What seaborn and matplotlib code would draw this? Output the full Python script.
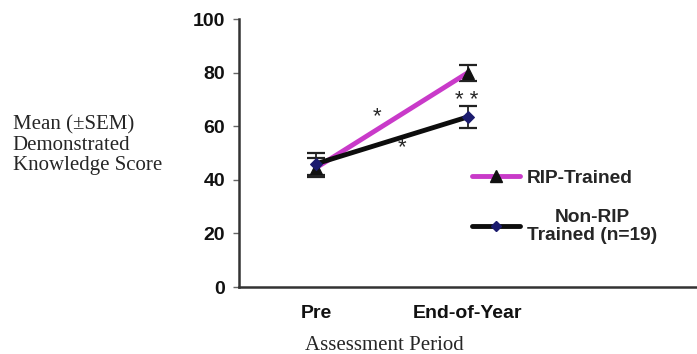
import matplotlib
matplotlib.use('Agg')
import matplotlib.pyplot as plt
import numpy as np
import pandas as pd
import seaborn as sns
from matplotlib.lines import Line2D

# values
periods = ['Pre', 'End-of-Year']
groups = ['RIP-Trained', 'Non-RIP\nTrained (n=19)']
rip_mean = [44.5, 80.0]
rip_sem = [3.5, 3.0]
non_rip_mean = [46.0, 63.5]
non_rip_sem = [4.0, 4.2]
y_ticks = [0, 20, 40, 60, 80, 100]

colors = {groups[0]: '#c93ac9', groups[1]: '#0d0d0d'}
marker_colors = {groups[0]: '#111111', groups[1]: '#1c1c6e'}

df = pd.DataFrame({
    'period': periods * 2,
    'score': rip_mean + non_rip_mean,
    'sem': rip_sem + non_rip_sem,
    'group': [groups[0]] * 2 + [groups[1]] * 2,
})

sns.set_style('white')
plt.rcParams['font.family'] = ['Liberation Sans', 'DejaVu Sans']
serif = ['Liberation Serif', 'DejaVu Serif']

fig = plt.figure(figsize=(6.97, 3.54), dpi=100)
ax = fig.add_axes([0.343, 0.189, 0.657, 0.757])

sns.lineplot(data=df, x='period', y='score', hue='group', style='group',
             markers={groups[0]: '^', groups[1]: 'D'}, dashes=False,
             palette=colors, linewidth=3.5, markersize=9, sort=False,
             ax=ax, legend=False)

# markers recolour + error bars
for line, g in zip(ax.get_lines(), groups):
    line.set_markerfacecolor(marker_colors[g])
    line.set_markeredgecolor(marker_colors[g])
    if g == groups[1]:
        line.set_markersize(6.5)
for g in groups:
    sub = df[df['group'] == g]
    ax.errorbar(sub['period'], sub['score'], yerr=sub['sem'], fmt='none',
                ecolor='#222222', elinewidth=1.3, capsize=6.5, capthick=1.6,
                zorder=1)

ax.set_xlim(-0.507, 2.51)
ax.set_ylim(0, 100)
ax.set_yticks(y_ticks)
ax.tick_params(axis='y', length=4, width=1, color='#666666', left=True,
               labelsize=14, pad=6)
ax.tick_params(axis='x', length=0, labelsize=14, pad=13)
for lab in ax.get_xticklabels() + ax.get_yticklabels():
    lab.set_fontweight('bold')
    lab.set_color('#111111')

sns.despine(ax=ax)
for s in ['left', 'bottom']:
    ax.spines[s].set_color('#333333')
    ax.spines[s].set_linewidth(1.8)

ax.set_xlabel('')
ax.set_ylabel('')
fig.text(0.018, 0.59, 'Mean (\u00b1SEM)\nDemonstrated\nKnowledge Score',
         family=serif, fontsize=15, va='center', ha='left',
         linespacing=1.08)
fig.text(0.4376, 0.024, 'Assessment Period', family=serif, fontsize=15,
         va='center', ha='left')

# significance stars
ax.text(0.40, 63.5, '*', fontsize=16, ha='center', va='center')
ax.text(0.566, 52, '*', fontsize=16, ha='center', va='center')
ax.text(0.993, 69.5, '* *', fontsize=16, ha='center', va='center')

# legend
handles = [
    Line2D([], [], color=colors[groups[0]], lw=3.5, marker='^', markersize=8,
           markerfacecolor=marker_colors[groups[0]],
           markeredgecolor=marker_colors[groups[0]]),
    Line2D([], [], color=colors[groups[1]], lw=3.5, marker='D', markersize=5,
           markerfacecolor=marker_colors[groups[1]],
           markeredgecolor=marker_colors[groups[1]]),
]
leg = ax.legend(handles, groups, loc='upper left', bbox_to_anchor=(0.487, 0.475),
                frameon=False, handlelength=2.5, handletextpad=0.4,
                labelspacing=1.15, borderpad=0,
                prop={'weight': 'bold', 'size': 13.8})
for t in leg.get_texts():
    t.set_multialignment('center')
    t.set_linespacing(1.1)

fig.savefig('out.png', dpi=100)
